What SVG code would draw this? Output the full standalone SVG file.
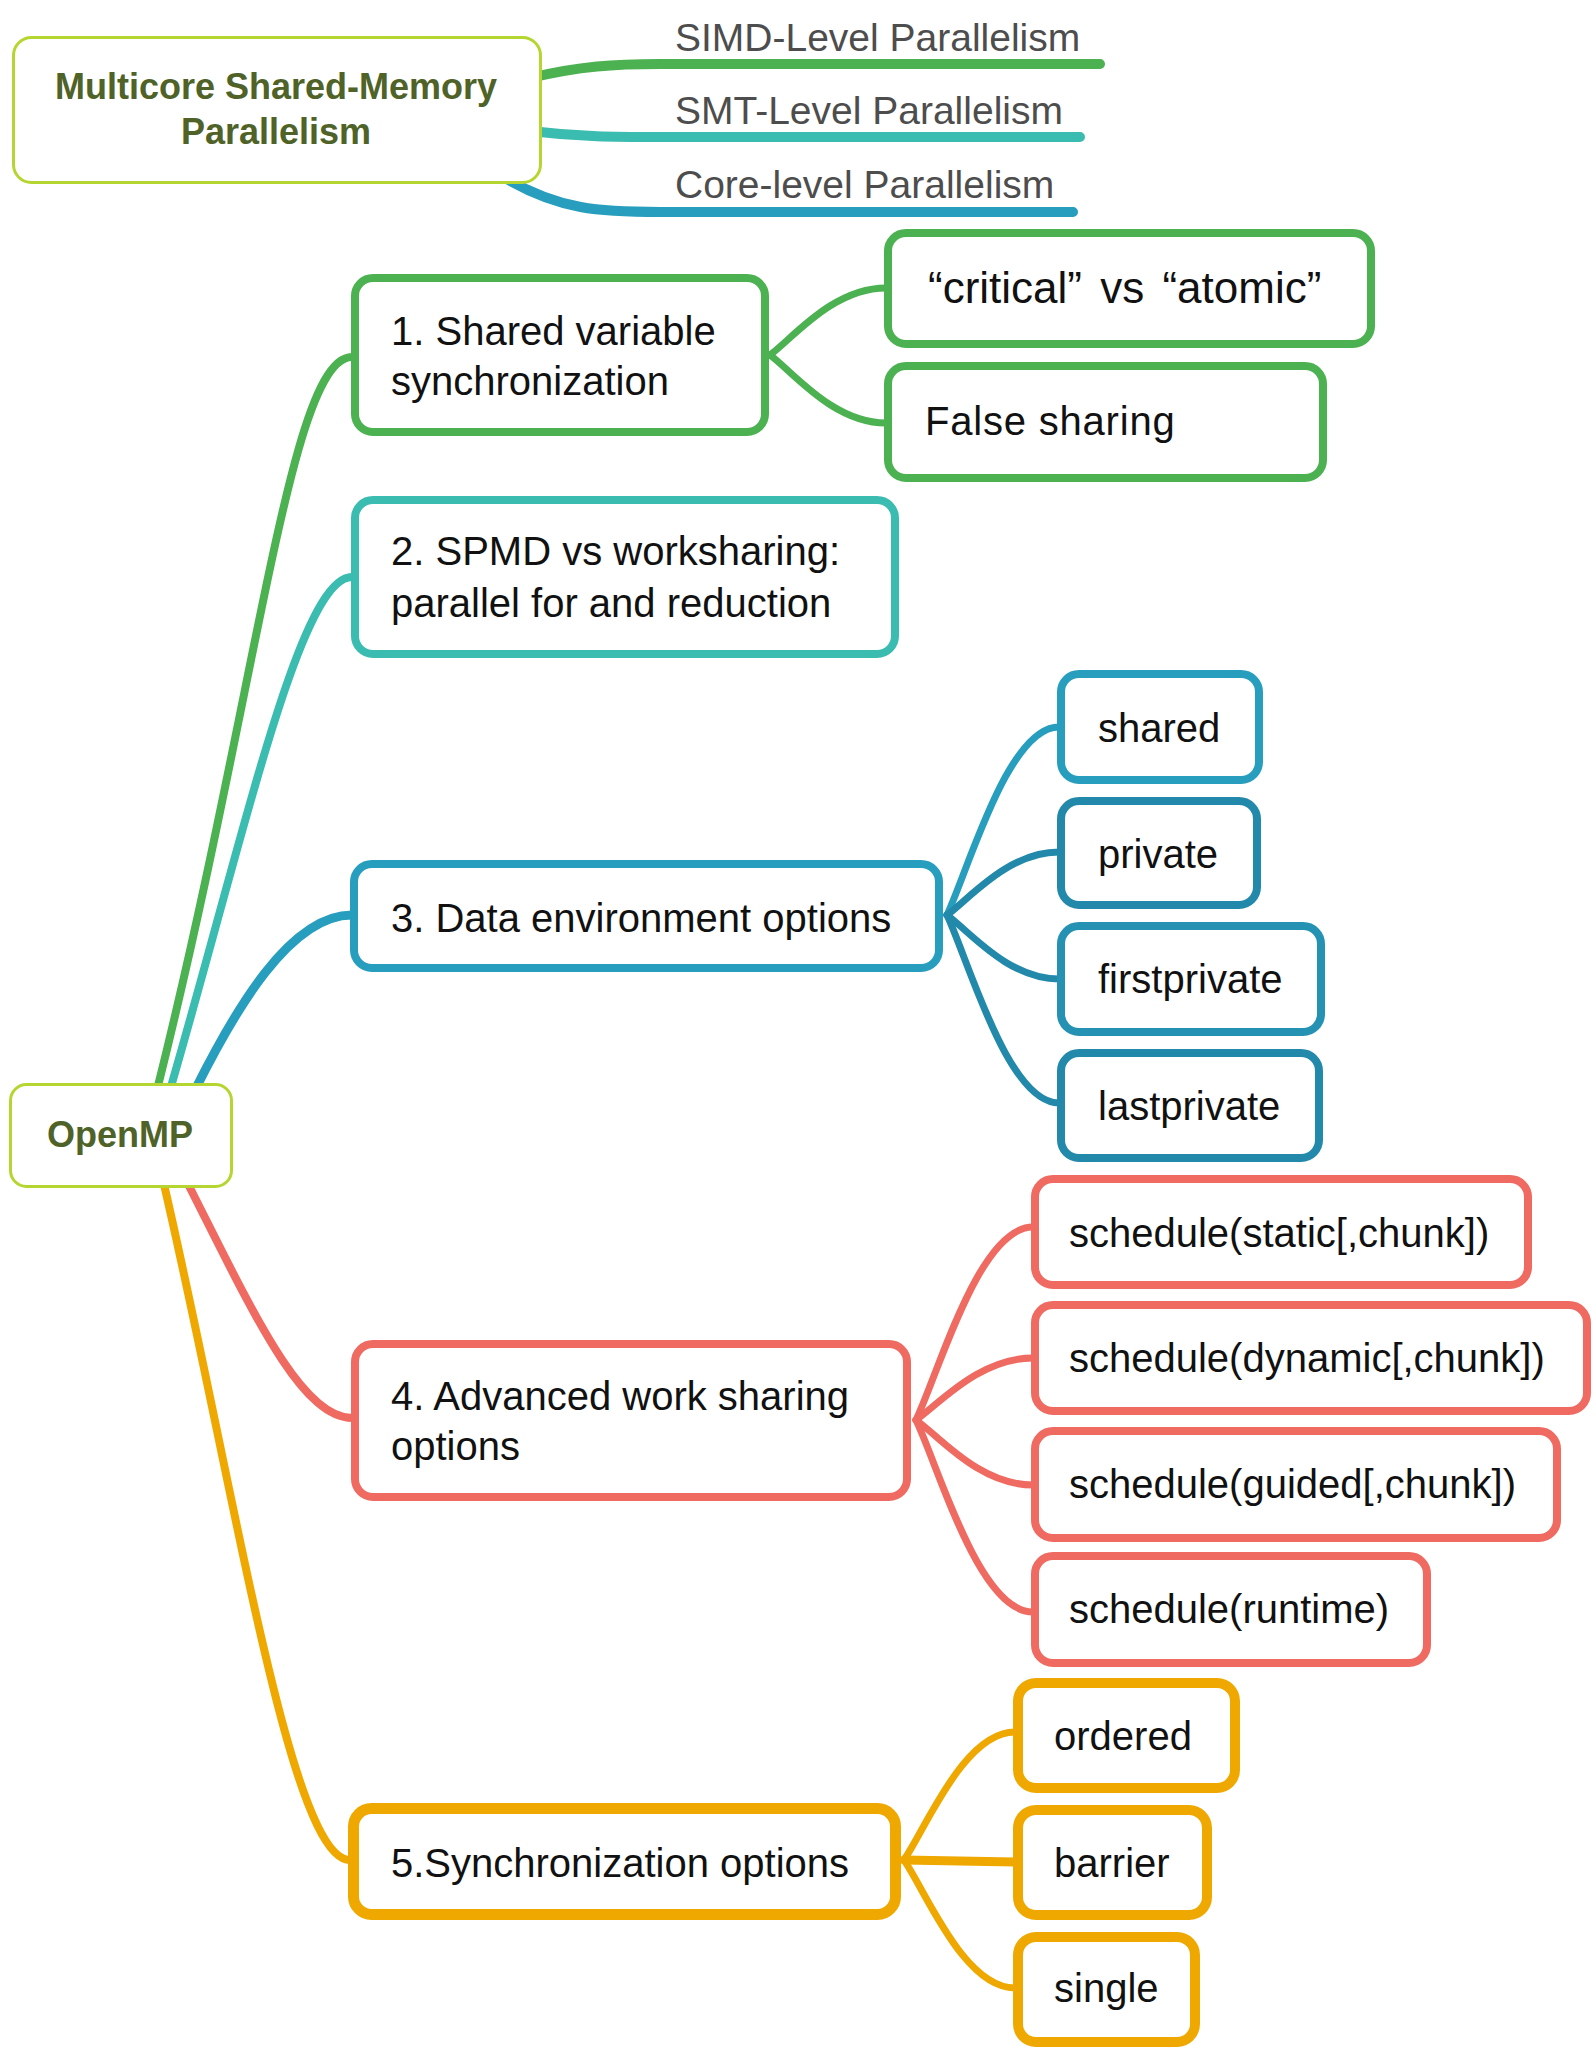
<svg xmlns="http://www.w3.org/2000/svg" width="1596" height="2050" viewBox="0 0 1596 2050">
<style>
  .bg { fill: #ffffff; }
  .root rect { fill: #ffffff; stroke: #b5d630; stroke-width: 3; }
  .root text { font-family: "Liberation Sans", Arial, sans-serif; font-weight: bold; font-size: 36px; fill: #4f6228; text-anchor: middle; }
  .node rect { fill: #ffffff; stroke-width: 8; }
  .node text { font-family: "Liberation Sans", Arial, sans-serif; font-size: 40px; fill: #111111; }
  .node text.big { font-size: 44px; word-spacing: 6px; }
  .node text.wide { letter-spacing: 0.8px; }
  .lbl { font-family: "Liberation Sans", Arial, sans-serif; font-size: 39px; fill: #4d4d4d; }
  .c { fill: none; stroke-linecap: round; }
  .green { stroke: #4cb150; }
  .teal { stroke: #3abcb0; }
  .blue { stroke: #289ebe; }
  .dblue { stroke: #2389ab; }
  .red { stroke: #ef6a61; }
  .amber { stroke: #efa800; }
</style>
<rect class="bg" x="0" y="0" width="1596" height="2050"/>

<g id="connectors">
  <!-- top root branches -->
  <path class="c green" stroke-width="10" d="M530,78 C580,66 615,64 660,64 L1100,64"/>
  <path class="c teal" stroke-width="10" d="M530,131 C580,137 615,137 660,137 L1080,137"/>
  <path class="c blue" stroke-width="10" d="M505,178 C560,210 600,212 660,212 L1073,212"/>

  <!-- OpenMP to main topics -->
  <path class="c green" stroke-width="8" d="M157,1090 C259,682 290,357 352,357"/>
  <path class="c teal" stroke-width="8" d="M170,1090 C245,832 300,577 352,577"/>
  <path class="c blue" stroke-width="9" d="M195,1090 C235,1010 290,915 352,915"/>
  <path class="c red" stroke-width="8" d="M186,1180 C250,1306 300,1418 352,1418"/>
  <path class="c amber" stroke-width="8" d="M163,1180 C235,1490 290,1860 350,1860"/>

  <!-- node 1 children -->
  <path class="c green" stroke-width="7" d="M770,355 C793,338 833,288 886,288"/>
  <path class="c green" stroke-width="7" d="M770,355 C793,372 833,423 886,423"/>

  <!-- node 3 children -->
  <path class="c blue" stroke-width="7" d="M947,915 C969,868 1008,727 1059,727"/>
  <path class="c dblue" stroke-width="7" d="M947,915 C969,899 1008,852 1059,852"/>
  <path class="c dblue" stroke-width="7" d="M947,915 C969,931 1008,979 1059,979"/>
  <path class="c dblue" stroke-width="7" d="M947,915 C969,962 1008,1103 1059,1103"/>

  <!-- node 4 children -->
  <path class="c red" stroke-width="7" d="M916,1420 C939,1372 979,1227 1033,1227"/>
  <path class="c red" stroke-width="7" d="M916,1420 C939,1404 979,1358 1033,1358"/>
  <path class="c red" stroke-width="7" d="M916,1420 C939,1436 979,1485 1033,1485"/>
  <path class="c red" stroke-width="7" d="M916,1420 C939,1468 979,1612 1033,1612"/>

  <!-- node 5 children -->
  <path class="c amber" stroke-width="7" d="M904,1860 C926,1828 964,1732 1015,1732"/>
  <path class="c amber" stroke-width="9" d="M904,1860 L1015,1862"/>
  <path class="c amber" stroke-width="7" d="M904,1860 C926,1892 964,1988 1015,1988"/>
</g>

<g id="root-multicore" class="root">
  <rect x="13.5" y="37.5" width="527" height="145" rx="18"/>
  <text x="276" y="99">Multicore  Shared-Memory</text>
  <text x="276" y="144">Parallelism</text>
</g>
<g id="label-simd"><text class="lbl" x="675" y="51">SIMD-Level Parallelism</text></g>
<g id="label-smt"><text class="lbl" x="675" y="124">SMT-Level Parallelism</text></g>
<g id="label-core"><text class="lbl" x="675" y="198">Core-level Parallelism</text></g>

<g id="root-openmp" class="root">
  <rect x="10.5" y="1084.5" width="221" height="102" rx="16"/>
  <text x="120" y="1147">OpenMP</text>
</g>

<g id="node1" class="node">
  <rect x="355" y="278" width="410" height="154" rx="18" stroke="#4cb150"/>
  <text x="391" y="345">1. Shared variable</text>
  <text x="391" y="395">synchronization</text>
</g>
<g id="node-critical" class="node">
  <rect x="888" y="233" width="483" height="111" rx="18" stroke="#4cb150"/>
  <text class="big" x="928" y="303">“critical” vs “atomic”</text>
</g>
<g id="node-false" class="node">
  <rect x="888" y="366" width="435" height="112" rx="18" stroke="#4cb150"/>
  <text class="wide" x="925" y="435">False sharing</text>
</g>

<g id="node2" class="node">
  <rect x="355" y="500" width="540" height="154" rx="18" stroke="#3abcb0"/>
  <text x="391" y="565">2. SPMD vs worksharing:</text>
  <text x="391" y="617">parallel for and reduction</text>
</g>

<g id="node3" class="node">
  <rect x="354" y="864" width="585" height="104" rx="18" stroke="#289ebe"/>
  <text x="391" y="932">3. Data environment options</text>
</g>
<g id="node-shared" class="node">
  <rect x="1061" y="674" width="198" height="106" rx="18" stroke="#289ebe"/>
  <text x="1098" y="742">shared</text>
</g>
<g id="node-private" class="node">
  <rect x="1061" y="801" width="196" height="104" rx="18" stroke="#2389ab"/>
  <text x="1098" y="868">private</text>
</g>
<g id="node-firstprivate" class="node">
  <rect x="1061" y="926" width="260" height="106" rx="18" stroke="#2592b3"/>
  <text x="1098" y="993">firstprivate</text>
</g>
<g id="node-lastprivate" class="node">
  <rect x="1061" y="1053" width="258" height="105" rx="18" stroke="#2389ab"/>
  <text x="1098" y="1120">lastprivate</text>
</g>

<g id="node4" class="node">
  <rect x="355" y="1344" width="552" height="153" rx="18" stroke="#ef6a61"/>
  <text x="391" y="1410">4. Advanced work sharing</text>
  <text x="391" y="1460">options</text>
</g>
<g id="node-static" class="node">
  <rect x="1035" y="1179" width="493" height="106" rx="18" stroke="#ef6a61"/>
  <text x="1069" y="1247">schedule(static[,chunk])</text>
</g>
<g id="node-dynamic" class="node">
  <rect x="1035" y="1305" width="552" height="106" rx="18" stroke="#ef6a61"/>
  <text x="1069" y="1372">schedule(dynamic[,chunk])</text>
</g>
<g id="node-guided" class="node">
  <rect x="1035" y="1431" width="522" height="107" rx="18" stroke="#ef6a61"/>
  <text x="1069" y="1498">schedule(guided[,chunk])</text>
</g>
<g id="node-runtime" class="node">
  <rect x="1035" y="1556" width="392" height="107" rx="18" stroke="#ef6a61"/>
  <text x="1069" y="1623">schedule(runtime)</text>
</g>

<g id="node5" class="node">
  <rect x="353.5" y="1808.5" width="542" height="106" rx="18" stroke="#efa800" style="stroke-width:11px"/>
  <text x="391" y="1877">5.Synchronization options</text>
</g>
<g id="node-ordered" class="node">
  <rect x="1018" y="1683" width="217" height="105" rx="18" stroke="#efa800" style="stroke-width:10px"/>
  <text x="1054" y="1750">ordered</text>
</g>
<g id="node-barrier" class="node">
  <rect x="1018" y="1810" width="189" height="105" rx="18" stroke="#efa800" style="stroke-width:10px"/>
  <text x="1054" y="1877">barrier</text>
</g>
<g id="node-single" class="node">
  <rect x="1018" y="1937" width="177" height="105" rx="18" stroke="#efa800" style="stroke-width:10px"/>
  <text x="1054" y="2002">single</text>
</g>
</svg>
